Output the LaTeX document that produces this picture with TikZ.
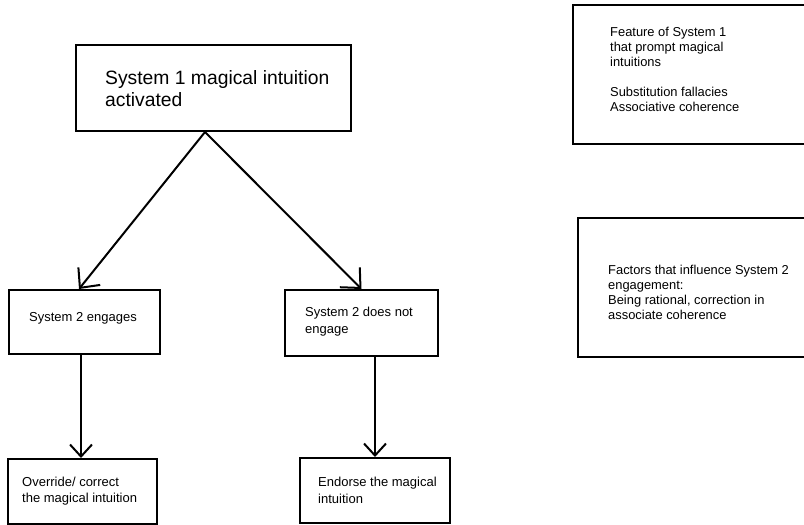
\documentclass[tikz,border=0pt]{standalone}
\usepackage{fontspec}
\setmainfont{Liberation Sans}
\usetikzlibrary{arrows.meta}
\begin{document}
\begin{tikzpicture}[x=1pt,y=-1pt,
  box/.style={draw, line width=2pt, rectangle, inner sep=0pt, anchor=north west},
  txt/.style={inner sep=0pt, align=left, anchor=west},
  big/.style={font=\fontsize{19.3}{22}\selectfont},
  mid/.style={font=\fontsize{13}{16.5}\selectfont},
  small/.style={font=\fontsize{12.9}{15}\selectfont},
  arr/.style={line width=2pt, -{Straight Barb[length=15pt,width=28pt,line width=2pt]}},
  varr/.style={line width=2pt, -{Straight Barb[length=12pt,width=22pt,line width=2pt]}},
]
\useasboundingbox (0,0) rectangle (804,525);
\clip (0,0) rectangle (804,525);
% boxes
\node[box, minimum width=275pt, minimum height=86pt] (top) at (75,44) {};
\node[txt, big] (toptext) at (105,89) {System 1 magical intuition\\activated};

\node[box, minimum width=151pt, minimum height=64pt] (eng) at (8,289) {};
\node[inner sep=0pt, mid] (engtext) at (83,318) {System 2 engages};

\node[box, minimum width=153pt, minimum height=66pt] (dne) at (284,289) {};
\node[txt, mid] (dnetext) at (305,321.5) {System 2 does not\\engage};

\node[box, minimum width=149pt, minimum height=65pt] (ovr) at (7,458) {};
\node[txt, mid] (ovrtext) at (22,491) {Override/ correct\\the magical intuition};

\node[box, minimum width=150pt, minimum height=65pt] (endo) at (299,457) {};
\node[txt, mid] (endotext) at (318,490.5) {Endorse the magical\\intuition};

\node[box, minimum width=260pt, minimum height=139pt] (f1) at (572,4) {};
\node[txt, small] (f1text) at (610,69.5) {Feature of System 1\\that prompt magical\\intuitions\\[15pt]Substitution fallacies\\Associative coherence};

\node[box, minimum width=260pt, minimum height=139pt] (f2) at (577,217) {};
\node[txt, small] (f2text) at (608,292) {Factors that influence System 2\\engagement:\\Being rational, correction in\\associate coherence};

% connectors
\draw[arr] ([xshift=-8.5pt]top.south) -- ([xshift=-5.5pt]eng.north);
\draw[arr] ([xshift=-8.5pt]top.south) -- (dne.north);
\draw[varr] ([xshift=-1.5pt]eng.south -| ovr.north) -- ([xshift=-1.5pt]ovr.north);
\draw[varr] (dne.south -| endo.north) -- (endo.north);
\end{tikzpicture}
\end{document}
